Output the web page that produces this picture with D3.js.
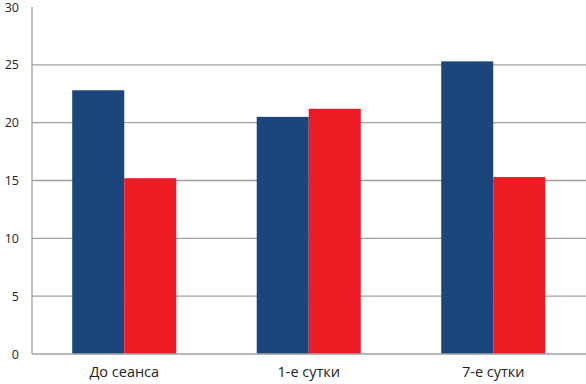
<!DOCTYPE html>
<html>
<head>
<meta charset="utf-8">
<script src="https://cdn.jsdelivr.net/npm/d3@7"></script>
<style>
body { margin: 0; background: #fff; }
text { font-family: 'Open Sans', sans-serif; fill: #222; }
</style>
</head>
<body>
<svg width="586" height="384"></svg>
<script>
const categories = ['До сеанса', '1-е сутки', '7-е сутки']
const seriesA = [22.8, 20.5, 25.3]
const seriesB = [15.2, 21.2, 15.3]
const yTicks = [0, 5, 10, 15, 20, 25, 30]

const svg = d3.select('svg')
const margin = {top: 7, right: 0.5, bottom: 30, left: 32}
const innerWidth = 586 - margin.left - margin.right
const innerHeight = 384 - margin.top - margin.bottom

const data = categories.map((c, i) => ({cat: c, a: seriesA[i], b: seriesB[i]}))

const xScale = d3.scaleBand()
	.domain(categories)
	.range([0, innerWidth])
	.paddingInner(0.436)
	.paddingOuter(0.218)

const sub = d3.scaleBand()
	.domain(['a', 'b'])
	.range([0, xScale.bandwidth()])

const yScale = d3.scaleLinear()
	.domain([0, 30])
	.range([innerHeight, 0])

const g = svg.append('g')
	.attr('transform', `translate(${margin.left}, ${margin.top})`)

// gridlines
g.selectAll('.grid')
	.data(yTicks.filter(d => d > 0 && d < 30))
	.enter()
	.append('line')
	.attr('x1', 0)
	.attr('x2', innerWidth + 1)
	.attr('y1', d => yScale(d))
	.attr('y2', d => yScale(d))
	.attr('stroke', '#a0a0a0')
	.attr('stroke-width', 1.3)

// bars
const colors = {a: '#1a467c', b: '#ed1c24'}
const groups = g.selectAll('.grp')
	.data(data)
	.enter()
	.append('g')
	.attr('transform', d => `translate(${xScale(d.cat)},0)`)

groups.selectAll('rect')
	.data(d => ['a', 'b'].map(k => ({k, v: d[k]})))
	.enter()
	.append('rect')
	.attr('x', d => sub(d.k))
	.attr('y', d => yScale(d.v))
	.attr('width', sub.bandwidth())
	.attr('height', d => innerHeight - yScale(d.v))
	.attr('fill', d => colors[d.k])

// axes lines
g.append('line')
	.attr('x1', 0).attr('x2', 0)
	.attr('y1', 0).attr('y2', innerHeight)
	.attr('stroke', '#a0a0a0').attr('stroke-width', 1.3)
g.append('line')
	.attr('x1', 0).attr('x2', innerWidth + 1)
	.attr('y1', innerHeight).attr('y2', innerHeight)
	.attr('stroke', '#a0a0a0').attr('stroke-width', 1.3)

// y tick labels
const yAxis = d3.axisLeft(yScale).tickValues(yTicks).tickSize(0).tickPadding(13)
const ya = g.append('g').call(yAxis)
ya.select('.domain').remove()
ya.selectAll('text').attr('font-size', 12.5).style('font-family', "'Open Sans', sans-serif").attr('fill', '#222')

// x labels
const xAxis = d3.axisBottom(xScale).tickSize(0).tickPadding(13)
const xa = g.append('g').attr('transform', `translate(0, ${innerHeight})`).call(xAxis)
xa.select('.domain').remove()
xa.selectAll('text').attr('font-size', 14.5).style('font-family', "'Open Sans', sans-serif").attr('fill', '#222')
</script>
</body>
</html>
